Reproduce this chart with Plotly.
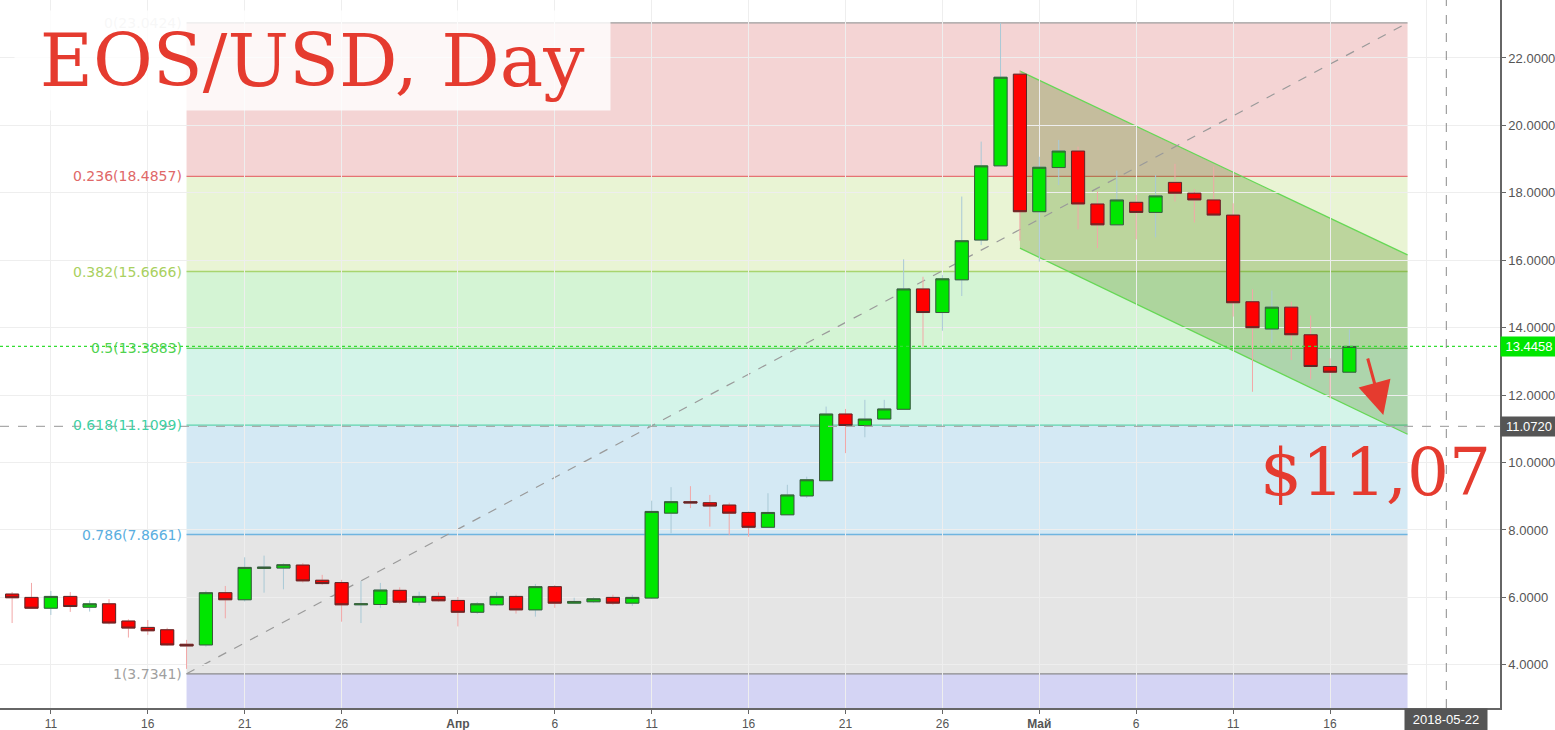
import plotly.graph_objects as go
import pandas as pd

# ---------------- data ----------------
dates = pd.date_range("2018-03-08", "2018-05-17", freq="D").strftime("%Y-%m-%d").tolist()
opens = [6.25, 6.10, 6.00, 5.68, 6.03, 5.71, 5.81, 5.30, 5.11, 5.04, 4.61, 4.59, 6.14, 5.93, 6.86, 6.87,
         6.96, 6.51, 6.44, 5.78, 5.79, 6.21, 5.86, 6.03, 5.91, 5.56, 5.78, 6.03, 5.63, 6.32, 5.83, 5.87,
         6.00, 5.83, 5.98, 8.50, 8.84, 8.81, 8.74, 8.52, 8.08, 8.45, 9.01, 9.46, 11.44, 11.10, 11.29,
         11.58, 15.15, 14.45, 15.42, 16.60, 18.80, 21.52, 17.44, 18.75, 19.24, 17.67, 17.05, 17.72,
         17.42, 18.31, 17.99, 17.79, 17.34, 14.77, 13.96, 14.61, 13.79, 12.85, 12.68]
highs = [6.40, 6.16, 6.43, 6.19, 6.16, 5.91, 5.95, 5.35, 5.33, 5.10, 4.74, 6.20, 6.34, 7.19, 7.24, 7.01,
         7.02, 6.67, 6.52, 6.49, 6.43, 6.30, 6.17, 6.15, 6.01, 5.86, 6.16, 6.08, 6.40, 6.37, 5.99, 6.00,
         6.08, 6.08, 8.87, 9.27, 9.30, 9.04, 8.81, 8.55, 9.09, 9.34, 9.58, 11.66, 11.59, 11.86, 11.86,
         16.03, 15.51, 15.56, 17.89, 19.52, 23.04, 21.64, 19.07, 19.57, 19.37, 18.04, 18.66, 17.94,
         18.53, 18.86, 18.11, 18.78, 17.69, 15.14, 15.10, 14.77, 14.36, 13.09, 13.95]
lows = [5.28, 5.24, 5.68, 5.48, 5.57, 5.58, 5.20, 4.81, 4.89, 4.57, 3.88, 4.54, 5.38, 5.88, 6.14, 6.24,
        6.44, 6.37, 5.28, 5.24, 5.69, 5.81, 5.76, 5.87, 5.14, 5.51, 5.75, 5.52, 5.43, 5.69, 5.81, 5.84,
        5.78, 5.75, 5.95, 7.90, 8.65, 8.10, 7.85, 7.80, 8.08, 8.45, 8.95, 9.46, 10.28, 10.75, 11.28,
        11.56, 13.44, 13.91, 14.94, 16.45, 18.80, 16.58, 15.96, 18.23, 16.92, 16.36, 17.05, 16.62,
        16.68, 17.74, 17.12, 17.31, 14.33, 12.10, 13.54, 13.04, 12.47, 11.91, 12.68]
closes = [6.08, 5.99, 5.68, 6.03, 5.73, 5.81, 5.24, 5.09, 5.01, 4.59, 4.56, 6.14, 5.93, 6.89, 6.90, 6.97,
          6.49, 6.41, 5.78, 5.81, 6.22, 5.86, 6.03, 5.90, 5.56, 5.81, 6.03, 5.63, 6.32, 5.83, 5.88, 5.96,
          5.83, 6.00, 8.55, 8.84, 8.80, 8.71, 8.50, 8.08, 8.52, 9.04, 9.49, 11.44, 11.10, 11.29, 11.59,
          15.15, 14.45, 15.45, 16.58, 18.80, 21.43, 17.44, 18.76, 19.24, 17.67, 17.05, 17.79, 17.42,
          17.91, 17.99, 17.79, 17.34, 14.74, 14.00, 14.61, 13.79, 12.85, 12.68, 13.4458]

fib_ratios = ["0", "0.236", "0.382", "0.5", "0.618", "0.786", "1"]
fib_prices = [23.0424, 18.4857, 15.6666, 13.3883, 11.1099, 7.8661, 3.7341]
fib_start, fib_end = "2018-03-18", "2018-05-20"

channel_start, channel_end = "2018-04-30", "2018-05-20"
channel_upper = [21.61, 16.16]   # at start, at end
channel_lower = [16.36, 10.84]

last_price = 13.4458
target_price = 11.0720
marker_date = "2018-05-22"

tick_dates = ["2018-03-11", "2018-03-16", "2018-03-21", "2018-03-26", "2018-04-01", "2018-04-06",
              "2018-04-11", "2018-04-16", "2018-04-21", "2018-04-26", "2018-05-01", "2018-05-06",
              "2018-05-11", "2018-05-16", "2018-05-21"]
tick_text = ["11", "16", "21", "26", "<b>Апр</b>", "6", "11", "16", "21", "26", "<b>Май</b>", "6",
             "11", "16", ""]
y_ticks = [4, 6, 8, 10, 12, 14, 16, 18, 20, 22]

# ---------------- styles ----------------
band_fill = ["#f4d4d4", "#e9f4d4", "#d4f4d4", "#d4f4e9", "#d4e9f4", "#e5e5e5", "#d4d4f4"]
line_cols = ["#9e9e9e", "#e57373", "#a8d46f", "#66d466", "#5dd3ad", "#6fb5e0", "#8a8a8a"]
label_cols = ["#d6d6d6", "#e06868", "#a9d060", "#4fd24f", "#3fd0a4", "#5aaee0", "#a0a0a0"]
Y_MIN, Y_MAX = 2.72, 23.72


def ms(d):
    return int(pd.Timestamp(d).value // 10**6)


fig = go.Figure()

# wicks (light colours)
fig.add_trace(go.Candlestick(x=dates, open=opens, high=highs, low=lows, close=closes,
                             increasing=dict(line=dict(color="#a9c9d6", width=1), fillcolor="#00e600"),
                             decreasing=dict(line=dict(color="#f2a7a7", width=1), fillcolor="#ff0000"),
                             whiskerwidth=0, showlegend=False, hoverinfo="skip"))
# bodies (dark borders)
body_hi = [max(o, c) for o, c in zip(opens, closes)]
body_lo = [min(o, c) for o, c in zip(opens, closes)]
fig.add_trace(go.Candlestick(x=dates, open=opens, high=body_hi, low=body_lo, close=closes,
                             increasing=dict(line=dict(color="#3a5a3a", width=1), fillcolor="#00e600"),
                             decreasing=dict(line=dict(color="#5a2a2a", width=1), fillcolor="#ff0000"),
                             whiskerwidth=0, showlegend=False))

shapes = []
# fib bands
band_edges = fib_prices + [Y_MIN]
for i in range(len(band_fill)):
    shapes.append(dict(type="rect", xref="x", yref="y", x0=fib_start, x1=fib_end,
                       y0=band_edges[i + 1], y1=band_edges[i], fillcolor=band_fill[i],
                       line=dict(width=0), layer="below"))
for p, c in zip(fib_prices, line_cols):
    shapes.append(dict(type="line", xref="x", yref="y", x0=fib_start, x1=fib_end, y0=p, y1=p,
                       line=dict(color=c, width=1.3), layer="below"))
# channel fill + edges (below the candles)
xs, xe = ms(channel_start), ms(channel_end)
path = (f"M {xs},{channel_upper[0]} L {xe},{channel_upper[1]} "
        f"L {xe},{channel_lower[1]} L {xs},{channel_lower[0]} Z")
shapes.append(dict(type="path", xref="x", yref="y", path=path, fillcolor="rgba(60,125,0,0.26)",
                   line=dict(width=0), layer="below"))
for yy in (channel_upper, channel_lower):
    shapes.append(dict(type="line", xref="x", yref="y", x0=channel_start, x1=channel_end,
                       y0=yy[0], y1=yy[1], line=dict(color="#66d855", width=1.3), layer="below"))
# trend (dashed diagonal)
shapes.append(dict(type="line", xref="x", yref="y", x0=fib_start, x1=fib_end,
                   y0=fib_prices[-1], y1=fib_prices[0],
                   line=dict(color="#9a9a9a", width=1.2, dash="dash"), layer="below"))
# price lines
shapes.append(dict(type="line", xref="paper", yref="y", x0=0, x1=1, y0=last_price, y1=last_price,
                   line=dict(color="#33dd33", width=1.2, dash="dot"), layer="above"))
shapes.append(dict(type="line", xref="paper", yref="y", x0=0, x1=1, y0=target_price, y1=target_price,
                   line=dict(color="#aaaaaa", width=1.2, dash="dash"), layer="above"))
shapes.append(dict(type="line", xref="x", yref="paper", x0=marker_date, x1=marker_date, y0=0, y1=1,
                   line=dict(color="#8a8a8a", width=1, dash="dash"), layer="above"))

annotations = []
for r, p, c in zip(fib_ratios, fib_prices, label_cols):
    annotations.append(dict(x=fib_start, y=p, xref="x", yref="y", xanchor="right", yanchor="middle",
                            xshift=-3, text=f"{r}({p:.4f})", showarrow=False,
                            font=dict(family="DejaVu Sans", size=14, color=c)))

annotations.append(dict(x=14 / 1500, y=1 - 10 / 708, xref="paper", yref="paper", xanchor="left",
                        yanchor="top", text="EOS/USD, Day", showarrow=False, width=595, height=99,
                        bgcolor="rgba(255,255,255,0.8)", borderpad=0, align="center", valign="middle",
                        font=dict(family="DejaVu Serif", size=73, color="#e53b2f")))
annotations.append(dict(x=1258 / 1500, y=1 - 472 / 708, xref="paper", yref="paper", xanchor="left",
                        yanchor="middle", text="$11,07", showarrow=False,
                        font=dict(family="DejaVu Serif", size=66, color="#e53b2f")))
annotations.append(dict(x="2018-05-18 18:00", y=11.41, xref="x", yref="y", ax=-16, ay=-58, text="",
                        showarrow=True, arrowhead=2, arrowsize=2.2, arrowwidth=3, arrowcolor="#e53b2f"))
# right-axis price tags
annotations.append(dict(x=1, y=last_price, xref="paper", yref="y", xanchor="left", yanchor="middle",
                        text=f"{last_price:.4f}", showarrow=False, bgcolor="#00e600", width=52,
                        borderpad=2, font=dict(family="Liberation Sans", size=13, color="white")))
annotations.append(dict(x=1, y=target_price, xref="paper", yref="y", xanchor="left", yanchor="middle",
                        text=f"{target_price:.4f}", showarrow=False, bgcolor="#555555", width=52,
                        borderpad=2, font=dict(family="Liberation Sans", size=13, color="white")))
annotations.append(dict(x=marker_date, y=0, xref="x", yref="paper", xanchor="center", yanchor="top",
                        text="2018-05-22", showarrow=False, bgcolor="#555555", width=76, borderpad=3,
                        font=dict(family="Liberation Sans", size=13, color="white")))

fig.update_layout(
    width=1555, height=730,
    margin=dict(l=0, r=55, t=0, b=22),
    paper_bgcolor="white", plot_bgcolor="white",
    shapes=shapes, annotations=annotations,
    boxgap=0.32, boxgroupgap=0,
    showlegend=False,
    xaxis=dict(type="date", range=["2018-03-08 09:00", "2018-05-24 18:30"],
               tickvals=tick_dates, ticktext=tick_text, showgrid=True, gridcolor="#eeeeee",
               ticks="outside", ticklen=4, tickcolor="#666", showline=True, linecolor="#666",
               linewidth=1.5, rangeslider=dict(visible=False), zeroline=False,
               tickfont=dict(family="Liberation Sans", size=12, color="#555")),
    yaxis=dict(side="right", range=[Y_MIN, Y_MAX], tickvals=y_ticks,
               ticktext=[f"{v:.4f}" for v in y_ticks], showgrid=True, gridcolor="#eeeeee",
               ticks="outside", ticklen=4, tickcolor="#666", showline=True, linecolor="#666",
               linewidth=1.5, zeroline=False,
               tickfont=dict(family="Liberation Sans", size=13, color="#555")),
)

fig.write_html("out.html", config={"displayModeBar": False},
               post_script="document.body.style.margin='0';document.body.style.overflow='hidden';")
